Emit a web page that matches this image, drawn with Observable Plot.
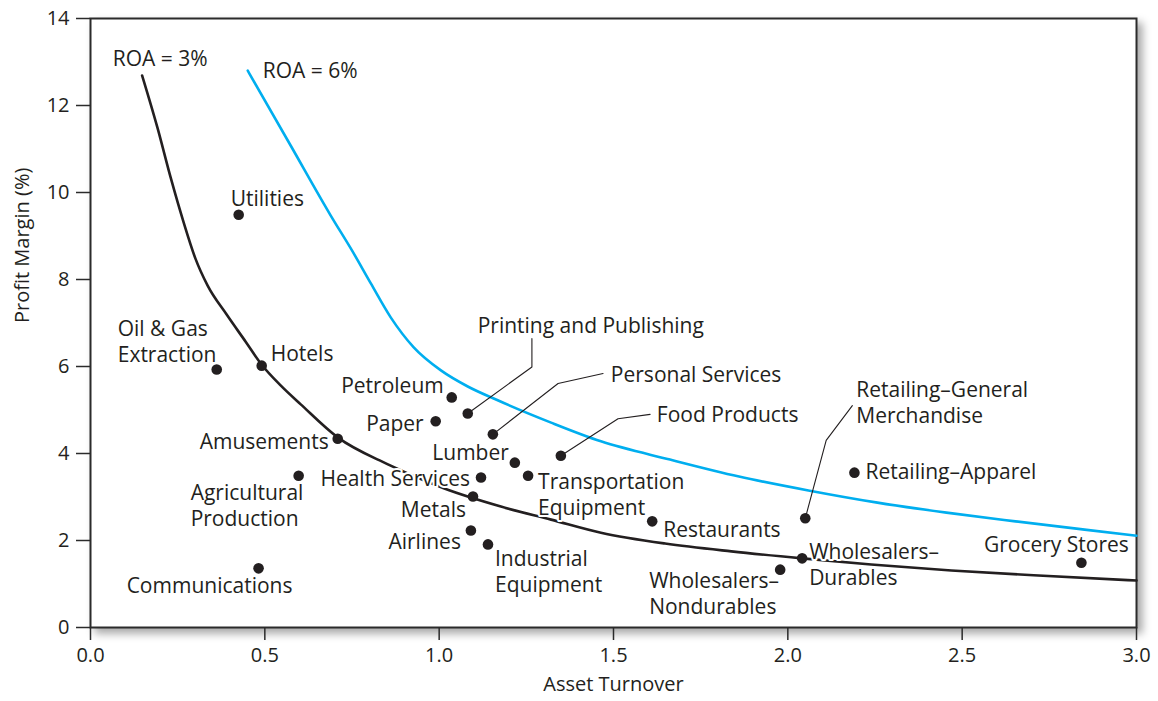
<!DOCTYPE html>
<html>
<head>
<meta charset="utf-8">
<script src="https://cdn.jsdelivr.net/npm/d3@7"></script>
<script src="https://cdn.jsdelivr.net/npm/@observablehq/plot@0.6"></script>
<style>
  html, body { margin: 0; padding: 0; background: #fff; overflow: hidden; }
  #chart svg { display: block; }
</style>
</head>
<body>
<div id="chart"></div>
<script>
// ---------- data ----------
const industries = [
  "Utilities", "Oil & Gas\nExtraction", "Hotels", "Amusements", "Agricultural\nProduction",
  "Communications", "Petroleum", "Printing and Publishing", "Paper", "Personal Services",
  "Lumber", "Transportation\nEquipment", "Food Products", "Health Services", "Metals",
  "Airlines", "Industrial\nEquipment", "Restaurants", "Retailing–General\nMerchandise",
  "Retailing–Apparel", "Wholesalers–\nDurables", "Wholesalers–\nNondurables", "Grocery Stores"
];
const assetTurnover = [
  0.425, 0.362, 0.491, 0.709, 0.597,
  0.482, 1.036, 1.082, 0.990, 1.154,
  1.217, 1.255, 1.349, 1.120, 1.097,
  1.091, 1.140, 1.611, 2.050,
  2.191, 2.041, 1.978, 2.842
];
const profitMargin = [
  9.49, 5.93, 6.02, 4.34, 3.49,
  1.36, 5.29, 4.92, 4.74, 4.44,
  3.79, 3.49, 3.95, 3.45, 3.01,
  2.23, 1.91, 2.44, 2.51,
  3.56, 1.59, 1.33, 1.49
];

// ROA = 3% curve (as drawn in the figure)
const roa3Turnover = [0.148, 0.192, 0.230, 0.268, 0.301, 0.336, 0.390, 0.445, 0.491, 0.546, 0.603, 0.709, 0.853, 1.013, 1.177, 1.321, 1.464, 1.648, 1.838, 2.041, 2.239, 2.469, 2.705, 3.0];
const roa3Margin   = [12.69, 11.49, 10.34, 9.29, 8.48, 7.86, 7.20, 6.57, 6.04, 5.56, 5.13, 4.37, 3.75, 3.20, 2.78, 2.48, 2.18, 1.93, 1.75, 1.59, 1.45, 1.31, 1.20, 1.08];
// ROA = 6% curve (as drawn in the figure)
const roa6Turnover = [0.451, 0.574, 0.689, 0.752, 0.804, 0.861, 0.927, 1.005, 1.082, 1.163, 1.321, 1.464, 1.662, 1.860, 2.059, 2.257, 2.455, 2.653, 2.851, 3.0];
const roa6Margin   = [12.80, 11.08, 9.47, 8.64, 7.91, 7.13, 6.44, 5.91, 5.54, 5.24, 4.71, 4.28, 3.86, 3.47, 3.15, 2.87, 2.64, 2.44, 2.25, 2.11];

const curveNames = ["ROA = 3%", "ROA = 6%"];
const xTicks = [0, 0.5, 1.0, 1.5, 2.0, 2.5, 3.0];
const yTicks = [0, 2, 4, 6, 8, 10, 12, 14];
const xTitle = "Asset Turnover";
const yTitle = "Profit Margin (%)";

// leader-line elbows (annotation anchors, in data units)
const leaderIndustry = ["Printing and Publishing", "Personal Services", "Food Products", "Retailing–General\nMerchandise"];
const leaderElbowX = [[1.266, 1.266], [1.341, 1.470], [1.513, 1.605], [2.110, 2.185]];
const leaderElbowY = [[5.99, 6.64], [5.61, 5.84], [4.80, 4.90], [4.30, 5.10]];

// ---------- layout (label anchor + offsets in px from the dot) ----------
const labelLayout = {
  "Utilities": ["start", -8, -17],
  "Oil & Gas\nExtraction": ["start", -99, -29],
  "Hotels": ["start", 9, -13],
  "Amusements": ["end", -9, 2],
  "Agricultural\nProduction": ["start", -108, 28.5],
  "Communications": ["middle", -49, 16],
  "Petroleum": ["end", -8, -13],
  "Printing and Publishing": ["middle", 123, -89],
  "Paper": ["end", -12, 1],
  "Personal Services": ["start", 118, -61],
  "Lumber": ["end", -6, -11],
  "Transportation\nEquipment": ["start", 10, 18],
  "Food Products": ["start", 96, -42],
  "Health Services": ["end", -11, 0],
  "Metals": ["end", -7, 12],
  "Airlines": ["end", -10, 10],
  "Industrial\nEquipment": ["start", 7, 26.5],
  "Restaurants": ["start", 11, 7],
  "Retailing–General\nMerchandise": ["start", 51, -117],
  "Retailing–Apparel": ["start", 11, -2],
  "Wholesalers–\nDurables": ["start", 7, 5],
  "Wholesalers–\nNondurables": ["start", -131, 23.5],
  "Grocery Stores": ["middle", -25, -19]
};

const INK = "#231f20";
const BLUE = "#00aeef";
const FONT = 21;
const TICKFONT = 20;
const TITLEFONT = 20;

// ---------- tables ----------
const points = industries.map((name, i) => ({name, x: assetTurnover[i], y: profitMargin[i]}));
const roa3 = roa3Turnover.map((x, i) => ({x, y: roa3Margin[i]}));
const roa6 = roa6Turnover.map((x, i) => ({x, y: roa6Margin[i]}));
const leaders = [];
leaderIndustry.forEach((name, k) => {
  const p = points.find(d => d.name === name);
  leaders.push({name, x: p.x, y: p.y});
  leaderElbowX[k].forEach((x, j) => leaders.push({name, x, y: leaderElbowY[k][j]}));
});

const labelMarks = points.map(p => {
  const [anchor, dx, dy] = labelLayout[p.name];
  return Plot.text([p], {
    x: "x", y: "y", text: "name", textAnchor: anchor, dx, dy,
    fill: INK, fontSize: FONT, lineHeight: 26 / FONT,
    stroke: "#fff", strokeWidth: 4, paintOrder: "stroke"
  });
});

const chart = Plot.plot({
  width: 1158,
  height: 701,
  marginLeft: 90,
  marginRight: 22,
  marginTop: 18,
  marginBottom: 74,
  style: {fontFamily: "'Open Sans', 'Noto Sans', sans-serif", fontSize: FONT + "px", color: INK, background: "#fff"},
  x: {domain: [0, 3], ticks: xTicks},
  y: {domain: [0, 14], ticks: yTicks},
  marks: [
    Plot.frame({fill: "#fff", stroke: "#2b2b2b", strokeWidth: 2}),
    Plot.axisY({ticks: yTicks, tickSize: 14, tickPadding: 7, stroke: "#2b2b2b", strokeWidth: 1.5, fill: INK, fontSize: TICKFONT, label: null}),
    Plot.axisX({ticks: xTicks, tickFormat: d3.format(".1f"), tickSize: 13, tickPadding: 7, stroke: "#2b2b2b", strokeWidth: 1.5, fill: INK, fontSize: TICKFONT, label: null}),
    Plot.text([xTitle], {frameAnchor: "bottom", dy: 63, fill: INK, fontSize: TITLEFONT}),
    Plot.text([yTitle], {frameAnchor: "left", rotate: -90, dx: -68, fill: INK, fontSize: TITLEFONT}),
    Plot.line(roa6, {x: "x", y: "y", stroke: BLUE, strokeWidth: 2.6, curve: "monotone-x"}),
    Plot.line(roa3, {x: "x", y: "y", stroke: INK, strokeWidth: 2.6, curve: "monotone-x"}),
    Plot.text([roa3[0]], {x: "x", y: "y", text: () => curveNames[0], textAnchor: "middle", dx: 18, dy: -16, fill: INK, fontSize: FONT}),
    Plot.text([roa6[0]], {x: "x", y: "y", text: () => curveNames[1], textAnchor: "start", dx: 15, dy: 1, fill: INK, fontSize: FONT}),
    Plot.line(leaders, {x: "x", y: "y", z: "name", stroke: INK, strokeWidth: 1.1}),
    ...labelMarks,
    Plot.dot(points, {x: "x", y: "y", r: 5.3, fill: INK, stroke: "none"})
  ]
});

d3.select(chart).select('[aria-label="frame"]')
  .style("filter", "drop-shadow(5px 5px 4px rgba(0,0,0,0.35))");

document.getElementById("chart").appendChild(chart);
</script>
</body>
</html>
